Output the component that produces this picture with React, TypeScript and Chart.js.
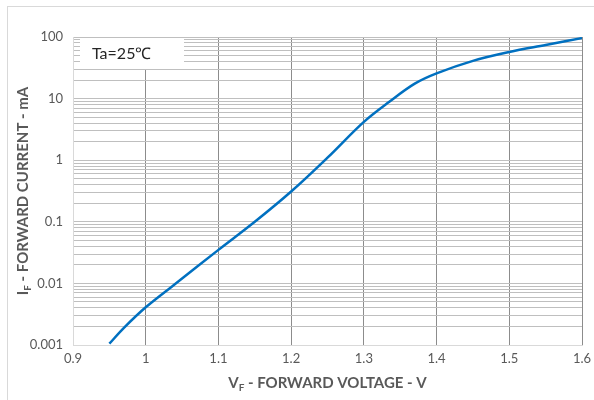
import React, { useEffect, useRef } from "react";
import { Chart, registerables } from "chart.js";

Chart.register(...registerables);

// Forward voltage (V) and forward current (mA)
const voltage = [0.95, 0.97, 1.0, 1.04, 1.1, 1.15, 1.2, 1.25, 1.3, 1.335, 1.37, 1.4, 1.45, 1.5, 1.55, 1.6];
const current = [0.00105, 0.0019, 0.0041, 0.0097, 0.035, 0.1, 0.31, 1.1, 4.2, 8.9, 17.5, 25.7, 41, 57, 74, 96];

const xTickValues = [0.9, 1.0, 1.1, 1.2, 1.3, 1.4, 1.5, 1.6];
const xTickLabels = ["0.9", "1", "1.1", "1.2", "1.3", "1.4", "1.5", "1.6"];
const yDecades = [0.001, 0.01, 0.1, 1, 10, 100];
const yTickLabels = ["0.001", "0.01", "0.1", "1", "10", "100"];

const annotationText = "Ta=25℃";
const xTitleMain = "V";
const xTitleSub = "F";
const xTitleRest = " - FORWARD VOLTAGE - V";
const yTitleMain = "I";
const yTitleSub = "F";
const yTitleRest = " - FORWARD CURRENT - mA";

const FONT = "Lato, 'Open Sans', sans-serif";

function drawSubTitle(ctx: CanvasRenderingContext2D, main: string, sub: string, rest: string, size: number) {
  const big = `bold ${size}px ${FONT}`;
  const small = `bold ${Math.round(size * 0.65)}px ${FONT}`;
  ctx.font = big;
  const w1 = ctx.measureText(main).width;
  const w3 = ctx.measureText(rest).width;
  ctx.font = small;
  const w2 = ctx.measureText(sub).width;
  const total = w1 + w2 + w3;
  let x = -total / 2;
  ctx.textAlign = "left";
  ctx.textBaseline = "alphabetic";
  ctx.font = big;
  ctx.fillText(main, x, 0);
  x += w1;
  ctx.font = small;
  ctx.fillText(sub, x, 3);
  x += w2;
  ctx.font = big;
  ctx.fillText(rest, x, 0);
}

const decorPlugin = {
  id: "decor",
  beforeDraw(chart: any) {
    const ctx = chart.ctx as CanvasRenderingContext2D;
    ctx.save();
    ctx.fillStyle = "#ffffff";
    ctx.fillRect(0, 0, chart.width, chart.height);
    ctx.strokeStyle = "#d9d9d9";
    ctx.lineWidth = 1;
    ctx.strokeRect(7.5, 6.5, chart.width + 20, chart.height + 20);
    ctx.restore();
  },
  beforeDatasetsDraw(chart: any) {
    const ctx = chart.ctx as CanvasRenderingContext2D;
    const a = chart.chartArea;
    ctx.save();
    ctx.fillStyle = "#ffffff";
    ctx.fillRect(a.left + 7, a.top + 1, 104, 31);
    ctx.fillStyle = "#262626";
    ctx.font = `16px ${FONT}`;
    ctx.textBaseline = "middle";
    ctx.textAlign = "left";
    ctx.fillText(annotationText, a.left + 19, a.top + 17);
    ctx.restore();
  },
  afterDraw(chart: any) {
    const ctx = chart.ctx as CanvasRenderingContext2D;
    const a = chart.chartArea;
    ctx.save();
    ctx.fillStyle = "#595959";
    ctx.translate((a.left + a.right) / 2, 388);
    drawSubTitle(ctx, xTitleMain, xTitleSub, xTitleRest, 15);
    ctx.restore();
    ctx.save();
    ctx.fillStyle = "#595959";
    ctx.translate(28, (a.top + a.bottom) / 2);
    ctx.rotate(-Math.PI / 2);
    drawSubTitle(ctx, yTitleMain, yTitleSub, yTitleRest, 15);
    ctx.restore();
  },
};

export default function App() {
  const ref = useRef<HTMLCanvasElement | null>(null);
  useEffect(() => {
    if (!ref.current) return;
    const yTicks: number[] = [];
    for (let i = 0; i < yDecades.length - 1; i++) {
      for (let k = 1; k <= 9; k++) yTicks.push(Number((yDecades[i] * k).toPrecision(3)));
    }
    yTicks.push(yDecades[yDecades.length - 1]);

    const chart = new Chart(ref.current, {
      type: "line",
      data: {
        datasets: [
          {
            data: voltage.map((v, i) => ({ x: v, y: current[i] })),
            borderColor: "#0070C0",
            borderWidth: 2.5,
            pointRadius: 0,
            tension: 0.35,
            fill: false,
          },
        ],
      },
      options: {
        animation: false,
        responsive: true,
        maintainAspectRatio: false,
        layout: { padding: { left: 0, top: 37, right: 12, bottom: 0 } },
        plugins: { legend: { display: false }, tooltip: { enabled: false }, title: { display: false } },
        scales: {
          x: {
            type: "linear",
            min: 0.9,
            max: 1.6,
            afterFit(scale: any) {
              scale.height = 55;
              scale.paddingRight = 0;
              scale.paddingLeft = 0;
            },
            afterBuildTicks(scale: any) {
              scale.ticks = xTickValues.map((v) => ({ value: v }));
            },
            ticks: {
              autoSkip: false,
              maxRotation: 0,
              padding: 6,
              color: "#595959",
              font: { family: FONT, size: 13 },
              callback: (v: any) => {
                const i = xTickValues.findIndex((t) => Math.abs(t - Number(v)) < 1e-6);
                return i >= 0 ? xTickLabels[i] : "";
              },
            },
            grid: {
              drawTicks: false,
              lineWidth: 1,
              color: (c: any) => (c.index === 0 ? "#d9d9d9" : "#8c8c8c"),
            },
            border: { display: true, color: "#d9d9d9" },
          },
          y: {
            type: "logarithmic",
            min: 0.001,
            max: 100,
            afterFit(scale: any) {
              scale.width = 73;
            },
            afterBuildTicks(scale: any) {
              scale.ticks = yTicks.map((v) => ({ value: v }));
            },
            ticks: {
              autoSkip: false,
              padding: 10,
              color: "#595959",
              font: { family: FONT, size: 13 },
              callback: (v: any) => {
                const i = yDecades.findIndex((t) => Math.abs(t - Number(v)) / t < 1e-6);
                return i >= 0 ? yTickLabels[i] : "";
              },
            },
            grid: {
              drawTicks: false,
              lineWidth: 1,
              color: (c: any) => (c.index === 0 ? "#d9d9d9" : "#bfbfbf"),
            },
            border: { display: true, color: "#d9d9d9" },
          },
        },
      },
      plugins: [decorPlugin],
    });
    return () => chart.destroy();
  }, []);

  return (
    <div style={{ position: "absolute", left: 0, top: 0, width: 594, height: 400 }}>
      <canvas ref={ref} />
    </div>
  );
}
